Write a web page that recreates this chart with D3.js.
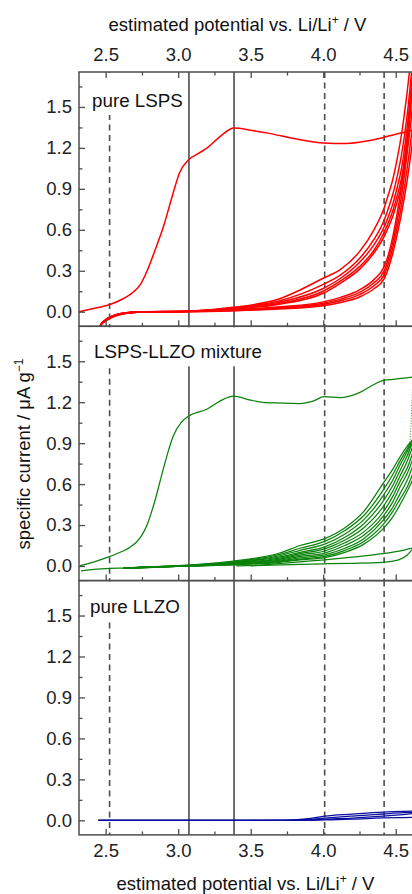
<!DOCTYPE html>
<html><head><meta charset="utf-8">
<script src="https://cdn.jsdelivr.net/npm/d3@7/dist/d3.min.js"></script>
<style>
html,body{margin:0;padding:0;background:#fff;}
text{font-family:"Liberation Sans",Arial,Helvetica,sans-serif;}
</style></head>
<body>
<svg id="chart" width="412" height="894"></svg>
<script>
// ---------------- DATA ----------------
const xMajorTicks = [2.5, 3.0, 3.5, 4.0, 4.5];
const xMinorTicks = [2.75, 3.25, 3.75, 4.25];
const yMajorTicks = [0.0, 0.3, 0.6, 0.9, 1.2, 1.5];
const yMinorTicks = [0.15, 0.45, 0.75, 1.05, 1.35, 1.65];
const solidRefLines = [3.074, 3.385];
const dashedRefLines = [2.527, 4.01, 4.42];
const panelLabels = ["pure LSPS", "LSPS-LLZO mixture", "pure LLZO"];

// pure LSPS: first anodic sweep
const redFirstV = [2.316,2.40,2.53,2.62,2.67,2.74,2.78,2.84,2.90,2.96,3.01,3.074,3.14,3.20,3.29,3.385,3.50,3.61,3.84,4.00,4.16,4.30,4.41,4.50,4.58,4.63];
const redFirstI = [0.000,0.020,0.053,0.095,0.127,0.20,0.285,0.45,0.63,0.85,1.02,1.115,1.16,1.20,1.285,1.345,1.33,1.31,1.26,1.236,1.232,1.25,1.275,1.30,1.32,1.335];
// pure LSPS: following cycles
const redCycleV = [2.44,2.46,2.52,2.63,2.75,3.07,3.38,3.70,4.00,4.12,4.25,4.35,4.42,4.45,4.48,4.51,4.54,4.58,4.62,4.66];
const redUp1 = [-0.15,-0.105,-0.056,-0.015,-0.003,0.004,0.032,0.095,0.245,0.31,0.44,0.60,0.76,0.86,0.97,1.12,1.30,1.62,2.00,2.4];
const redUp2 = [-0.15,-0.105,-0.052,-0.013,-0.002,0.004,0.028,0.080,0.200,0.27,0.39,0.53,0.67,0.76,0.86,0.99,1.15,1.45,1.88,2.4];
const redUp3 = [-0.15,-0.105,-0.050,-0.012,-0.002,0.003,0.025,0.070,0.170,0.245,0.36,0.49,0.62,0.70,0.79,0.91,1.05,1.36,1.80,2.4];
const redUp4 = [-0.15,-0.105,-0.048,-0.011,-0.002,0.003,0.022,0.062,0.150,0.225,0.33,0.45,0.58,0.655,0.74,0.85,0.98,1.28,1.76,2.4];
const redUp5 = [-0.15,-0.105,-0.046,-0.010,-0.001,0.003,0.020,0.055,0.135,0.21,0.31,0.43,0.55,0.62,0.70,0.805,0.93,1.22,1.74,2.4];
const redDown1 = [-0.15,-0.105,-0.050,-0.012,-0.002,0.003,0.013,0.036,0.072,0.105,0.16,0.235,0.33,0.42,0.55,0.72,0.92,1.28,1.70,2.2];
const redDown2 = [-0.15,-0.105,-0.048,-0.011,-0.002,0.002,0.011,0.030,0.062,0.092,0.142,0.212,0.30,0.39,0.51,0.67,0.85,1.17,1.55,2.0];
const redDown3 = [-0.15,-0.105,-0.046,-0.010,-0.001,0.001,0.009,0.025,0.053,0.080,0.125,0.19,0.27,0.355,0.47,0.615,0.78,1.06,1.40,1.8];
const redDown4 = [-0.15,-0.105,-0.044,-0.009,-0.001,0.000,0.007,0.020,0.044,0.068,0.108,0.168,0.24,0.32,0.43,0.565,0.72,0.97,1.28,1.6];

// LSPS-LLZO mixture: first anodic sweep
const greenFirstV = [2.323,2.42,2.53,2.62,2.668,2.74,2.783,2.84,2.897,2.966,3.02,3.074,3.197,3.288,3.38,3.50,3.61,3.84,3.93,4.007,4.115,4.25,4.35,4.414,4.483,4.62];
const greenFirstI = [0.002,0.03,0.07,0.11,0.137,0.21,0.295,0.48,0.71,0.953,1.05,1.099,1.148,1.208,1.245,1.215,1.196,1.19,1.208,1.24,1.233,1.27,1.33,1.36,1.367,1.384];
const greenTurnV = [4.618,4.612,4.605,4.596,4.585];
const greenTurnI = [1.37,1.20,1.02,0.88,0.78];
const greenTailV = [2.33,2.42,2.53,2.62,2.75,3.07];
const greenTailI = [-0.035,-0.024,-0.017,-0.015,-0.011,0.0];
// LSPS-LLZO mixture: following cycles
const greenCycleV = [2.62,2.75,3.07,3.38,3.70,3.84,4.01,4.15,4.28,4.41,4.48,4.53,4.58,4.63];
const greenC1 = [-0.015,-0.008,0.006,0.035,0.095,0.150,0.200,0.280,0.40,0.60,0.71,0.80,0.88,0.94];
const greenC2 = [-0.015,-0.009,0.005,0.030,0.085,0.130,0.180,0.260,0.37,0.55,0.67,0.77,0.86,0.95];
const greenC3 = [-0.015,-0.010,0.004,0.027,0.075,0.115,0.160,0.235,0.34,0.51,0.63,0.74,0.84,0.96];
const greenC4 = [-0.016,-0.010,0.003,0.024,0.066,0.100,0.140,0.210,0.31,0.47,0.59,0.70,0.81,0.95];
const greenC5 = [-0.016,-0.011,0.002,0.021,0.058,0.090,0.125,0.190,0.28,0.43,0.55,0.66,0.77,0.92];
const greenC6 = [-0.016,-0.011,0.002,0.018,0.050,0.080,0.110,0.170,0.25,0.39,0.51,0.62,0.72,0.87];
const greenC7 = [-0.017,-0.012,0.001,0.015,0.043,0.070,0.095,0.150,0.225,0.36,0.47,0.58,0.68,0.82];
const greenC8 = [-0.017,-0.012,0.000,0.012,0.037,0.060,0.082,0.130,0.20,0.33,0.43,0.53,0.63,0.77];
const greenC9 = [-0.017,-0.012,0.000,0.010,0.032,0.050,0.070,0.115,0.18,0.30,0.40,0.49,0.58,0.71];
const greenC10 = [-0.017,-0.013,0.000,0.008,0.027,0.045,0.062,0.100,0.16,0.27,0.36,0.45,0.55,0.66];
const greenLoopUpV = [3.50,3.84,4.01,4.20,4.41,4.55,4.63];
const greenLoopUpI = [0.000,0.030,0.045,0.065,0.090,0.115,0.135];
const greenLoopDownV = [3.40,3.84,4.01,4.20,4.41,4.52,4.58,4.61,4.63];
const greenLoopDownI = [0.000,0.012,0.016,0.020,0.027,0.045,0.080,0.115,0.135];

// pure LLZO
const blueV = [2.45,3.00,3.50,3.75,3.90,4.01,4.20,4.41,4.55,4.63];
const blueC1 = [0,0,0,0.001,0.012,0.030,0.045,0.060,0.066,0.068];
const blueC2 = [0,0,0,0.000,0.006,0.016,0.031,0.046,0.056,0.060];
const blueC3 = [0,0,0,0.000,0.002,0.008,0.016,0.030,0.042,0.050];
const blueC4 = [0,0,0,0.000,0.000,0.003,0.008,0.017,0.020,0.022];

// ---------------- CHART ----------------
const svg = d3.select("#chart");
const plotLeft = 79, plotRight = 414;
const panelTops = [72, 326.3, 580.6];
const ph = 254.3;
const font = '"Liberation Sans",Arial,Helvetica,sans-serif';
const frameColor = "#4d4d4d";
const tickFont = 18.5, titleFont = 18.5, labelFont = 18.8;

const x = d3.scaleLinear().domain([2.316, 4.626]).range([plotLeft, plotRight]);
const zip = (vs, is) => vs.map((v, k) => [v, is[k]]);

const panels = [
  { color: "#ff0000", width: 1.5,
    curves: [zip(redFirstV, redFirstI), zip(redCycleV, redUp1), zip(redCycleV, redUp2), zip(redCycleV, redUp3),
             zip(redCycleV, redUp4), zip(redCycleV, redUp5), zip(redCycleV, redDown1), zip(redCycleV, redDown2),
             zip(redCycleV, redDown3), zip(redCycleV, redDown4)],
    dotted: [] },
  { color: "#0a820a", width: 1.25,
    curves: [zip(greenFirstV, greenFirstI), zip(greenTailV, greenTailI),
             zip(greenCycleV, greenC1), zip(greenCycleV, greenC2), zip(greenCycleV, greenC3), zip(greenCycleV, greenC4),
             zip(greenCycleV, greenC5), zip(greenCycleV, greenC6), zip(greenCycleV, greenC7), zip(greenCycleV, greenC8),
             zip(greenCycleV, greenC9), zip(greenCycleV, greenC10),
             zip(greenLoopUpV, greenLoopUpI), zip(greenLoopDownV, greenLoopDownI)],
    dotted: [zip(greenTurnV, greenTurnI)] },
  { color: "#0b0fa0", width: 1.3,
    curves: [zip(blueV, blueC1), zip(blueV, blueC2), zip(blueV, blueC3), zip(blueV, blueC4)],
    dotted: [] }
];

const labelBaselines = [107, 358.3, 613.3];
const labelX = [92, 94, 90];

panels.forEach((p, i) => {
  const top = panelTops[i], bottom = top + ph;
  const y = d3.scaleLinear().domain([-0.107, 1.756]).range([bottom, top]);
  const g = svg.append("g");
  const clipId = "clip" + i;
  svg.append("clipPath").attr("id", clipId).append("rect")
    .attr("x", plotLeft).attr("y", top).attr("width", plotRight - plotLeft).attr("height", ph);
  const inner = g.append("g").attr("clip-path", `url(#${clipId})`);

  // reference lines
  inner.selectAll("line.solid").data(solidRefLines).join("line")
    .attr("x1", d => x(d)).attr("x2", d => x(d)).attr("y1", top).attr("y2", bottom)
    .attr("stroke", frameColor).attr("stroke-width", 1.6);
  inner.selectAll("line.dash").data(dashedRefLines).join("line")
    .attr("x1", d => x(d)).attr("x2", d => x(d)).attr("y1", top).attr("y2", bottom)
    .attr("stroke", frameColor).attr("stroke-width", 1.6).attr("stroke-dasharray", "6,4.5");

  // data curves
  const line = d3.line().x(d => x(d[0])).y(d => y(d[1])).curve(d3.curveMonotoneX);
  inner.selectAll("path.c").data(p.curves).join("path")
    .attr("d", line).attr("fill", "none").attr("stroke", p.color).attr("stroke-width", p.width);
  const lineLin = d3.line().x(d => x(d[0])).y(d => y(d[1]));
  inner.selectAll("path.d").data(p.dotted).join("path")
    .attr("d", lineLin).attr("fill", "none").attr("stroke", p.color).attr("stroke-width", 0.9)
    .attr("stroke-dasharray", "1,1.6");

  // panel label with white box
  const lab = g.append("text").attr("x", labelX[i]).attr("y", labelBaselines[i])
    .attr("font-size", labelFont).attr("fill", "#111").text(panelLabels[i]);
  const bb = lab.node().getBBox();
  g.insert("rect", "text").attr("x", bb.x - 2).attr("y", top + 1)
    .attr("width", bb.width + 4).attr("height", labelBaselines[i] + 8 - top - 1).attr("fill", "#fff");

  // frame
  g.append("rect").attr("x", plotLeft).attr("y", top).attr("width", plotRight - plotLeft).attr("height", ph)
    .attr("fill", "none").attr("stroke", frameColor).attr("stroke-width", 1.5);

  // y axis
  const yAx = g.append("g").attr("transform", `translate(${plotLeft},0)`)
    .call(d3.axisLeft(y).tickValues(yMajorTicks).tickSize(-6).tickSizeOuter(0).tickPadding(7).tickFormat(d3.format(".1f")));
  const yAxMin = g.append("g").attr("transform", `translate(${plotLeft},0)`)
    .call(d3.axisLeft(y).tickValues(yMinorTicks).tickSize(-3.5).tickSizeOuter(0).tickFormat(""));
  [yAx, yAxMin].forEach(a => { a.select(".domain").remove(); a.selectAll("line").attr("stroke", frameColor).attr("stroke-width", 1.3); });
  yAx.selectAll("text").attr("font-size", tickFont).attr("font-family", font).attr("fill", "#222");

  // bottom x ticks (inward)
  const showLabels = (i === 2);
  const xAx = g.append("g").attr("transform", `translate(0,${bottom})`)
    .call(d3.axisBottom(x).tickValues(xMajorTicks).tickSize(-6).tickSizeOuter(0).tickPadding(8.6)
      .tickFormat(showLabels ? d3.format(".1f") : ""));
  const xAxMin = g.append("g").attr("transform", `translate(0,${bottom})`)
    .call(d3.axisBottom(x).tickValues(xMinorTicks).tickSize(-3.5).tickSizeOuter(0).tickFormat(""));
  [xAx, xAxMin].forEach(a => { a.select(".domain").remove(); a.selectAll("line").attr("stroke", frameColor).attr("stroke-width", 1.3); });
  xAx.selectAll("text").attr("font-size", tickFont).attr("font-family", font).attr("fill", "#222");

  if (i === 0) {
    const tAx = g.append("g").attr("transform", `translate(0,${top})`)
      .call(d3.axisTop(x).tickValues(xMajorTicks).tickSize(-6).tickSizeOuter(0).tickPadding(11).tickFormat(d3.format(".1f")));
    const tAxMin = g.append("g").attr("transform", `translate(0,${top})`)
      .call(d3.axisTop(x).tickValues(xMinorTicks).tickSize(-3.5).tickSizeOuter(0).tickFormat(""));
    [tAx, tAxMin].forEach(a => { a.select(".domain").remove(); a.selectAll("line").attr("stroke", frameColor).attr("stroke-width", 1.3); });
    tAx.selectAll("text").attr("font-size", tickFont).attr("font-family", font).attr("fill", "#222");
  }
});

// axis titles
function xTitle(cx, by) {
  const t = svg.append("text").attr("x", cx).attr("y", by).attr("text-anchor", "middle")
    .attr("font-size", titleFont).attr("fill", "#111");
  t.append("tspan").text("estimated potential vs. Li/Li");
  t.append("tspan").attr("font-size", 12).attr("dy", -7.5).text("+");
  t.append("tspan").attr("dy", 7.5).text(" / V");
}
xTitle(237.5, 31);
xTitle(245.5, 890);

const yt = svg.append("text").attr("transform", "translate(30,454) rotate(-90)")
  .attr("text-anchor", "middle").attr("font-size", titleFont).attr("fill", "#111");
yt.append("tspan").text("specific current / \u03BCA g");
yt.append("tspan").attr("font-size", 12).attr("dy", -7.5).text("\u22121");
</script>
</body></html>
